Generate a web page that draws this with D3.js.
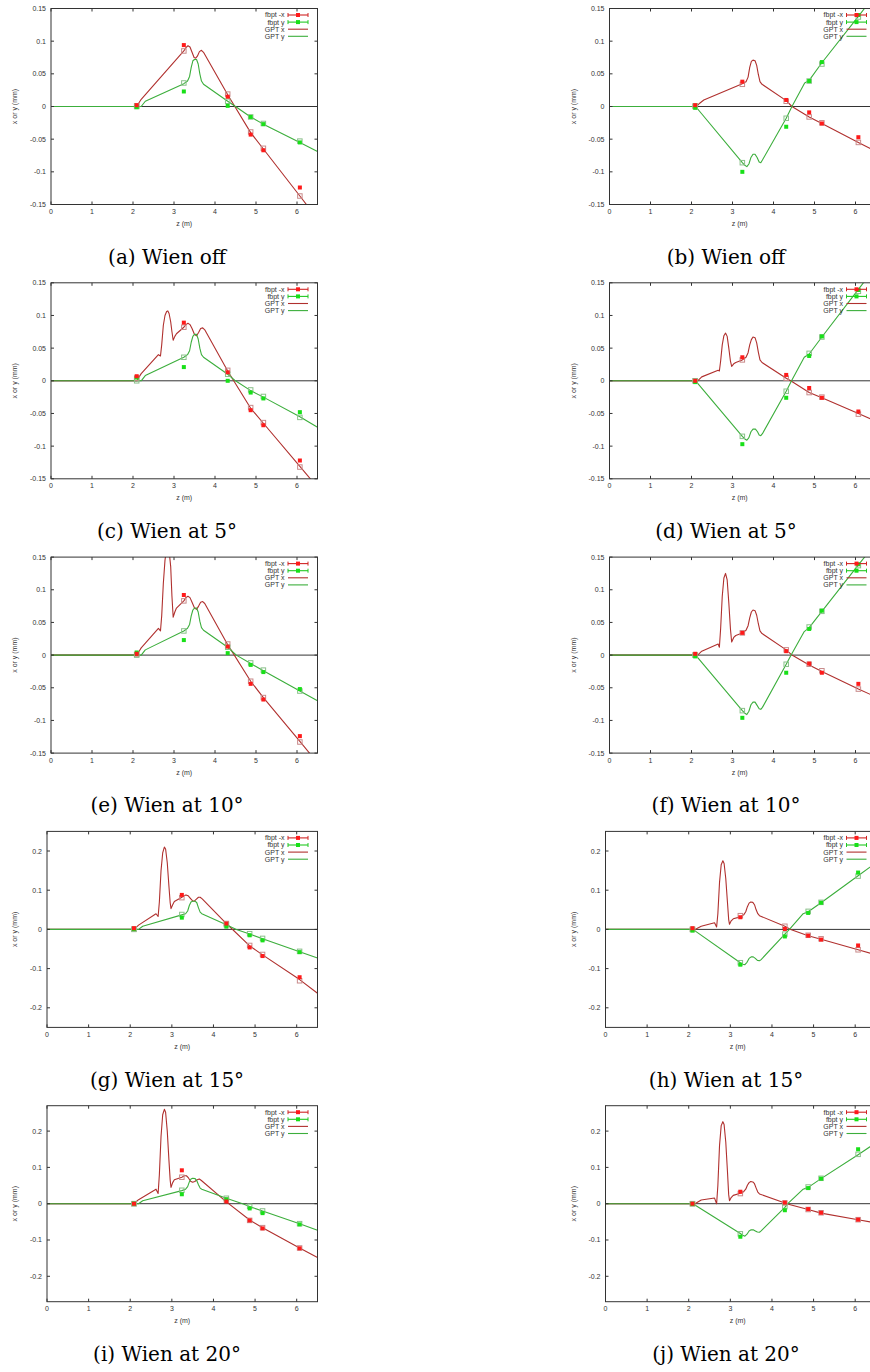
<!DOCTYPE html>
<html><head><meta charset="utf-8">
<script src="https://cdn.jsdelivr.net/npm/d3@7"></script>
<style>body{margin:0;background:#fff;overflow:hidden} svg{display:block}</style>
</head><body><svg id="c" width="870" height="1372"></svg>
<script>
// ---------- data ----------
const zMeas = [2.09, 3.24, 4.31, 4.87, 5.18, 6.07];
const captions = ["(a) Wien off","(b) Wien off","(c) Wien at 5°","(d) Wien at 5°","(e) Wien at 10°","(f) Wien at 10°","(g) Wien at 15°","(h) Wien at 15°","(i) Wien at 20°","(j) Wien at 20°"];
const yLimits = [0.15,0.15,0.15,0.15,0.15,0.15,0.25,0.25,0.27,0.27];
const xTicks = [0,1,2,3,4,5,6];
const yTicksSmall = [0.15,0.1,0.05,0,-0.05,-0.1,-0.15];
const yTicksLarge = [0.2,0.1,0,-0.1,-0.2];
const legendLabels = ["fbpt -x","fbpt y","GPT x","GPT y"];
const xAxisTitle = "z (m)";
const yAxisTitle = "x or y (mm)";

// fbpt measured points (filled) and GPT values at measurement z (open)
const fbptX_a=[0.002,0.094,0.015,-0.043,-0.067,-0.124], fbptY_a=[-0.001,0.023,0.001,-0.016,-0.027,-0.055];
const gptXPts_a=[0.001,0.085,0.019,-0.039,-0.064,-0.137], gptYPts_a=[0.0,0.036,0.008,-0.016,-0.026,-0.053];
const fbptX_b=[0.002,0.038,0.010,-0.009,-0.026,-0.047], fbptY_b=[-0.002,-0.100,-0.031,0.039,0.068,0.140];
const gptXPts_b=[0.0,0.034,0.008,-0.016,-0.025,-0.055], gptYPts_b=[0.001,-0.086,-0.018,0.039,0.065,0.137];
const fbptX_c=[0.007,0.089,0.013,-0.045,-0.068,-0.122], fbptY_c=[0.005,0.021,0.0,-0.018,-0.027,-0.048];
const gptXPts_c=[0.004,0.082,0.016,-0.041,-0.064,-0.132], gptYPts_c=[0.0,0.036,0.010,-0.014,-0.024,-0.056];
const fbptX_d=[0.0,0.036,0.009,-0.011,-0.026,-0.047], fbptY_d=[-0.002,-0.097,-0.026,0.038,0.068,0.139];
const gptXPts_d=[0.0,0.032,0.004,-0.018,-0.025,-0.051], gptYPts_d=[0.0,-0.085,-0.016,0.042,0.067,0.137];
const fbptX_e=[0.002,0.092,0.013,-0.044,-0.068,-0.124], fbptY_e=[0.004,0.023,0.003,-0.015,-0.026,-0.052];
const gptXPts_e=[0.001,0.083,0.017,-0.040,-0.065,-0.133], gptYPts_e=[0.0,0.037,0.012,-0.012,-0.023,-0.055];
const fbptX_f=[0.002,0.034,0.006,-0.013,-0.027,-0.044], fbptY_f=[-0.002,-0.096,-0.027,0.040,0.068,0.139];
const gptXPts_f=[0.0,0.034,0.008,-0.014,-0.024,-0.052], gptYPts_f=[0.0,-0.085,-0.014,0.043,0.067,0.137];
const fbptX_g=[0.003,0.088,0.015,-0.046,-0.068,-0.122], fbptY_g=[0.001,0.030,0.007,-0.015,-0.028,-0.058];
const gptXPts_g=[0.001,0.081,0.015,-0.041,-0.064,-0.131], gptYPts_g=[0.0,0.038,0.012,-0.011,-0.023,-0.056];
const fbptX_h=[0.003,0.031,0.001,-0.016,-0.026,-0.041], fbptY_h=[-0.003,-0.090,-0.018,0.042,0.068,0.145];
const gptXPts_h=[0.0,0.035,0.008,-0.015,-0.024,-0.052], gptYPts_h=[0.0,-0.085,-0.012,0.046,0.069,0.136];
const fbptX_i=[0.0,0.092,0.006,-0.046,-0.068,-0.123], fbptY_i=[0.0,0.026,0.012,-0.013,-0.026,-0.057];
const gptXPts_i=[0.0,0.073,0.010,-0.046,-0.066,-0.122], gptYPts_i=[0.0,0.037,0.015,-0.007,-0.020,-0.055];
const fbptX_j=[0.0,0.033,0.003,-0.015,-0.025,-0.044], fbptY_j=[-0.001,-0.091,-0.018,0.043,0.069,0.150];
const gptXPts_j=[0.0,0.028,0.002,-0.016,-0.025,-0.044], gptYPts_j=[0.0,-0.083,-0.008,0.046,0.070,0.136];

// GPT trajectories [z, value]
const gptX_a=[[0,0],[2.1,0],[2.15,0.006],[2.2,0.011],[3.24,0.085],[3.29,0.090],[3.34,0.093],[3.39,0.091],[3.44,0.083],[3.49,0.075],[3.53,0.074],[3.57,0.077],[3.62,0.084],[3.67,0.086],[3.72,0.083],[4.31,0.018],[4.87,-0.040],[5.18,-0.065],[6.07,-0.137],[6.5,-0.172]];
const gptY_a=[[0,0],[2.2,0],[2.3,0.008],[3.24,0.035],[3.33,0.039],[3.38,0.046],[3.42,0.060],[3.46,0.070],[3.5,0.072],[3.55,0.072],[3.59,0.065],[3.63,0.050],[3.67,0.039],[3.72,0.034],[4.31,0.008],[4.5,0],[4.87,-0.016],[5.18,-0.027],[6.07,-0.055],[6.5,-0.069]];
const gptX_b=[[0,0],[2.12,0],[2.2,0.005],[2.3,0.010],[3.24,0.035],[3.33,0.038],[3.38,0.045],[3.42,0.060],[3.46,0.069],[3.5,0.071],[3.55,0.070],[3.59,0.063],[3.63,0.049],[3.67,0.038],[3.72,0.034],[4.31,0.009],[4.45,0],[4.87,-0.016],[5.18,-0.026],[6.07,-0.055],[6.5,-0.069]];
const gptY_b=[[0,0],[2.1,0],[3.24,-0.086],[3.3,-0.090],[3.35,-0.092],[3.4,-0.088],[3.45,-0.078],[3.5,-0.073],[3.55,-0.073],[3.6,-0.078],[3.65,-0.085],[3.69,-0.086],[3.73,-0.082],[4.31,-0.018],[4.45,0],[4.76,0.036],[4.87,0.040],[5.18,0.067],[6.07,0.138],[6.5,0.173]];
const gptX_c=[[0,0],[2.1,0],[2.15,0.006],[2.2,0.011],[2.62,0.040],[2.67,0.038],[2.7,0.055],[2.74,0.085],[2.78,0.100],[2.82,0.106],[2.85,0.107],[2.88,0.103],[2.92,0.090],[2.95,0.075],[2.98,0.062],[3.02,0.068],[3.06,0.072],[3.24,0.082],[3.29,0.086],[3.34,0.088],[3.39,0.086],[3.44,0.080],[3.5,0.071],[3.55,0.069],[3.6,0.074],[3.65,0.080],[3.7,0.081],[3.75,0.078],[4.31,0.015],[4.87,-0.042],[5.18,-0.065],[6.07,-0.131],[6.5,-0.163]];
const gptY_c=[[0,0],[2.2,0],[2.3,0.008],[3.24,0.036],[3.33,0.040],[3.38,0.046],[3.42,0.059],[3.46,0.068],[3.5,0.071],[3.55,0.071],[3.59,0.064],[3.63,0.050],[3.67,0.040],[3.72,0.036],[4.31,0.010],[4.5,0],[4.87,-0.015],[5.18,-0.025],[6.07,-0.055],[6.5,-0.071]];
const gptX_d=[[0,0],[2.15,0],[2.25,0.006],[2.65,0.016],[2.68,0.015],[2.71,0.030],[2.75,0.055],[2.79,0.069],[2.83,0.073],[2.87,0.068],[2.91,0.050],[2.95,0.030],[2.98,0.022],[3.03,0.026],[3.08,0.028],[3.24,0.032],[3.33,0.036],[3.38,0.043],[3.42,0.055],[3.46,0.063],[3.5,0.067],[3.55,0.066],[3.59,0.058],[3.63,0.044],[3.67,0.032],[3.72,0.028],[4.31,0.004],[4.42,0],[4.87,-0.018],[5.18,-0.026],[6.07,-0.050],[6.5,-0.062]];
const gptY_d=[[0,0],[2.1,0],[3.24,-0.085],[3.3,-0.089],[3.35,-0.091],[3.4,-0.087],[3.45,-0.078],[3.5,-0.074],[3.56,-0.074],[3.61,-0.078],[3.65,-0.083],[3.69,-0.084],[3.73,-0.081],[4.31,-0.016],[4.44,0],[4.75,0.036],[4.87,0.041],[5.18,0.067],[6.07,0.140],[6.5,0.175]];
const gptX_e=[[0,0],[2.1,0],[2.15,0.006],[2.2,0.011],[2.62,0.041],[2.67,0.037],[2.7,0.060],[2.74,0.110],[2.78,0.145],[2.82,0.163],[2.85,0.166],[2.88,0.160],[2.92,0.135],[2.95,0.090],[2.98,0.058],[3.02,0.066],[3.06,0.072],[3.24,0.083],[3.29,0.088],[3.34,0.090],[3.39,0.088],[3.44,0.081],[3.5,0.072],[3.55,0.070],[3.6,0.075],[3.65,0.081],[3.7,0.082],[3.75,0.079],[4.31,0.016],[4.87,-0.040],[5.18,-0.065],[6.07,-0.132],[6.5,-0.165]];
const gptY_e=[[0,0],[2.2,0],[2.3,0.008],[3.24,0.037],[3.33,0.041],[3.38,0.047],[3.42,0.060],[3.46,0.069],[3.5,0.072],[3.55,0.072],[3.59,0.066],[3.63,0.052],[3.67,0.042],[3.72,0.038],[4.31,0.012],[4.52,0],[4.87,-0.013],[5.18,-0.024],[6.07,-0.055],[6.5,-0.070]];
const gptX_f=[[0,0],[2.15,0],[2.25,0.006],[2.65,0.017],[2.68,0.012],[2.71,0.040],[2.75,0.090],[2.79,0.118],[2.83,0.125],[2.87,0.115],[2.91,0.080],[2.95,0.040],[2.98,0.020],[3.03,0.027],[3.08,0.030],[3.24,0.034],[3.33,0.038],[3.38,0.045],[3.42,0.057],[3.46,0.066],[3.5,0.069],[3.55,0.068],[3.59,0.061],[3.63,0.048],[3.67,0.037],[3.72,0.033],[4.31,0.008],[4.45,0],[4.87,-0.015],[5.18,-0.025],[6.07,-0.052],[6.5,-0.064]];
const gptY_f=[[0,0],[2.1,0],[3.24,-0.085],[3.3,-0.089],[3.35,-0.091],[3.4,-0.086],[3.45,-0.076],[3.5,-0.072],[3.55,-0.072],[3.6,-0.077],[3.65,-0.082],[3.69,-0.083],[3.73,-0.080],[4.31,-0.014],[4.43,0],[4.75,0.036],[4.87,0.042],[5.18,0.067],[6.07,0.138],[6.5,0.172]];
const gptX_g=[[0,0],[2.1,0],[2.15,0.006],[2.2,0.011],[2.62,0.040],[2.67,0.033],[2.7,0.070],[2.74,0.150],[2.78,0.195],[2.82,0.210],[2.85,0.205],[2.89,0.170],[2.93,0.110],[2.96,0.068],[2.98,0.053],[3.02,0.063],[3.06,0.071],[3.24,0.082],[3.29,0.086],[3.34,0.088],[3.39,0.086],[3.44,0.080],[3.5,0.073],[3.54,0.072],[3.59,0.077],[3.64,0.082],[3.68,0.082],[3.73,0.078],[4.31,0.015],[4.87,-0.042],[5.18,-0.065],[6.07,-0.128],[6.5,-0.163]];
const gptY_g=[[0,0],[2.2,0],[2.3,0.008],[3.24,0.037],[3.33,0.040],[3.38,0.047],[3.42,0.061],[3.46,0.070],[3.5,0.072],[3.56,0.072],[3.6,0.068],[3.64,0.055],[3.68,0.044],[3.72,0.040],[4.31,0.012],[4.55,0],[4.87,-0.012],[5.18,-0.024],[6.07,-0.057],[6.5,-0.073]];
const gptX_h=[[0,0],[2.15,0],[2.3,0.008],[2.62,0.017],[2.67,0.006],[2.7,0.040],[2.74,0.120],[2.78,0.165],[2.82,0.175],[2.85,0.168],[2.89,0.130],[2.93,0.070],[2.96,0.025],[2.98,0.013],[3.02,0.022],[3.07,0.027],[3.24,0.032],[3.32,0.037],[3.37,0.045],[3.41,0.058],[3.45,0.067],[3.49,0.070],[3.54,0.069],[3.58,0.063],[3.62,0.050],[3.66,0.040],[3.7,0.035],[4.31,0.008],[4.45,0],[4.87,-0.016],[5.18,-0.025],[6.07,-0.052],[6.5,-0.065]];
const gptY_h=[[0,0],[2.1,0],[3.24,-0.085],[3.3,-0.089],[3.35,-0.090],[3.4,-0.084],[3.45,-0.074],[3.5,-0.070],[3.55,-0.070],[3.6,-0.074],[3.65,-0.079],[3.7,-0.080],[3.74,-0.077],[4.31,-0.012],[4.42,0],[4.75,0.040],[4.87,0.045],[5.18,0.068],[6.07,0.137],[6.5,0.170]];
const gptX_i=[[0,0],[2.1,0],[2.15,0.006],[2.2,0.011],[2.62,0.040],[2.67,0.028],[2.7,0.080],[2.74,0.185],[2.78,0.245],[2.82,0.260],[2.85,0.252],[2.89,0.200],[2.93,0.120],[2.96,0.065],[2.98,0.045],[3.02,0.058],[3.06,0.066],[3.24,0.073],[3.3,0.077],[3.35,0.077],[3.4,0.071],[3.45,0.062],[3.5,0.059],[3.55,0.061],[3.61,0.066],[3.66,0.068],[3.71,0.064],[4.31,0.005],[4.87,-0.045],[5.18,-0.066],[6.07,-0.122],[6.5,-0.148]];
const gptY_i=[[0,0],[2.2,0],[2.3,0.008],[3.24,0.036],[3.33,0.040],[3.38,0.047],[3.42,0.060],[3.46,0.068],[3.5,0.070],[3.56,0.069],[3.6,0.063],[3.64,0.052],[3.68,0.043],[3.72,0.040],[4.31,0.015],[4.7,0],[4.87,-0.008],[5.18,-0.020],[6.07,-0.055],[6.5,-0.073]];
const gptX_j=[[0,0],[2.15,0],[2.3,0.010],[2.62,0.0155],[2.67,0.0],[2.7,0.050],[2.74,0.160],[2.78,0.215],[2.82,0.226],[2.85,0.218],[2.89,0.170],[2.93,0.090],[2.96,0.025],[2.98,0.008],[3.02,0.017],[3.07,0.023],[3.24,0.029],[3.32,0.033],[3.37,0.040],[3.41,0.051],[3.45,0.058],[3.49,0.061],[3.54,0.060],[3.58,0.055],[3.62,0.043],[3.66,0.032],[3.7,0.027],[4.31,0.002],[4.35,0],[4.87,-0.016],[5.18,-0.026],[6.07,-0.044],[6.5,-0.053]];
const gptY_j=[[0,0],[2.1,0],[3.24,-0.082],[3.3,-0.087],[3.35,-0.0895],[3.4,-0.084],[3.45,-0.075],[3.5,-0.072],[3.55,-0.072],[3.6,-0.075],[3.65,-0.078],[3.7,-0.0785],[3.74,-0.075],[4.31,-0.010],[4.38,0],[4.75,0.040],[4.87,0.045],[5.18,0.069],[6.07,0.135],[6.5,0.168]];

// ---------- assemble ----------
const panels = [
  [fbptX_a,fbptY_a,gptXPts_a,gptYPts_a,gptX_a,gptY_a],
  [fbptX_b,fbptY_b,gptXPts_b,gptYPts_b,gptX_b,gptY_b],
  [fbptX_c,fbptY_c,gptXPts_c,gptYPts_c,gptX_c,gptY_c],
  [fbptX_d,fbptY_d,gptXPts_d,gptYPts_d,gptX_d,gptY_d],
  [fbptX_e,fbptY_e,gptXPts_e,gptYPts_e,gptX_e,gptY_e],
  [fbptX_f,fbptY_f,gptXPts_f,gptYPts_f,gptX_f,gptY_f],
  [fbptX_g,fbptY_g,gptXPts_g,gptYPts_g,gptX_g,gptY_g],
  [fbptX_h,fbptY_h,gptXPts_h,gptYPts_h,gptX_h,gptY_h],
  [fbptX_i,fbptY_i,gptXPts_i,gptYPts_i,gptX_i,gptY_i],
  [fbptX_j,fbptY_j,gptXPts_j,gptYPts_j,gptX_j,gptY_j]
];

const svg = d3.select("#c");
const FONT = "'Liberation Sans', Arial, sans-serif";
const C = {
  fx:"#ff1a1a", fy:"#18e018", gx:"#b0302e", gy:"#3cae3c",
  ox:"#c88a8a", oy:"#8ac08a", axis:"#333", text:"#333"
};
const rowTop = r => 8.5 + r*274.3;
const plotH = 196;
const plotRight = 317.5;
const colShift = 558.5;

panels.forEach((p, idx) => {
  const [fX,fY,gXP,gYP,gX,gY] = p;
  const row = Math.floor(idx/2), col = idx%2;
  const lim = yLimits[idx];
  const big = lim > 0.2;
  const left0 = big ? 47 : 51;
  const left = left0 + col*colShift, right = plotRight + col*colShift;
  const top = rowTop(row), bottom = top + plotH;
  const x = d3.scaleLinear().domain([0,6.5]).range([left,right]);
  const y = d3.scaleLinear().domain([-lim,lim]).range([bottom,top]);
  const yTicks = big ? yTicksLarge : yTicksSmall;
  const g = svg.append("g");

  const clipId = "clip"+idx;
  g.append("clipPath").attr("id",clipId).append("rect")
    .attr("x",left).attr("y",top).attr("width",right-left).attr("height",plotH);

  // zero line
  g.append("line").attr("x1",left).attr("x2",right).attr("y1",y(0)).attr("y2",y(0))
    .attr("stroke",C.axis).attr("stroke-width",1);

  const pg = g.append("g").attr("clip-path",`url(#${clipId})`);
  const line = d3.line().x(d=>x(d[0])).y(d=>y(d[1])).curve(d3.curveLinear);
  pg.append("path").attr("d",line(gX)).attr("fill","none").attr("stroke",C.gx).attr("stroke-width",1.1).attr("stroke-linejoin","round");
  pg.append("path").attr("d",line(gY)).attr("fill","none").attr("stroke",C.gy).attr("stroke-width",1.1).attr("stroke-linejoin","round");

  // open squares (GPT at measurement points)
  const sq = 4.5;
  [[gXP,C.ox],[gYP,C.oy]].forEach(([arr,col]) => {
    pg.selectAll(null).data(arr).enter().append("rect")
      .attr("x",(d,i)=>x(zMeas[i])-sq/2).attr("y",d=>y(d)-sq/2)
      .attr("width",sq).attr("height",sq).attr("fill","none")
      .attr("stroke",col).attr("stroke-width",1);
  });
  // filled squares (fbpt)
  const fs = 4;
  [[fY,C.fy],[fX,C.fx]].forEach(([arr,col]) => {
    pg.selectAll(null).data(arr).enter().append("rect")
      .attr("x",(d,i)=>x(zMeas[i])-fs/2).attr("y",d=>y(d)-fs/2)
      .attr("width",fs).attr("height",fs).attr("fill",col);
  });

  // frame
  g.append("rect").attr("x",left).attr("y",top).attr("width",right-left).attr("height",plotH)
    .attr("fill","none").attr("stroke",C.axis).attr("stroke-width",1);

  // ticks (inward, mirrored)
  const tl = 3;
  xTicks.forEach(t => {
    const xx = x(t);
    g.append("line").attr("x1",xx).attr("x2",xx).attr("y1",bottom).attr("y2",bottom-tl).attr("stroke",C.axis);
    g.append("line").attr("x1",xx).attr("x2",xx).attr("y1",top).attr("y2",top+tl).attr("stroke",C.axis);
    g.append("text").attr("x",xx).attr("y",bottom+9.5).attr("text-anchor","middle")
      .attr("font-family",FONT).attr("font-size",7).attr("fill",C.text).text(String(t));
  });
  yTicks.forEach(t => {
    const yy = y(t);
    g.append("line").attr("x1",left).attr("x2",left+tl).attr("y1",yy).attr("y2",yy).attr("stroke",C.axis);
    g.append("line").attr("x1",right).attr("x2",right-tl).attr("y1",yy).attr("y2",yy).attr("stroke",C.axis);
    g.append("text").attr("x",left-5).attr("y",yy+2.5).attr("text-anchor","end")
      .attr("font-family",FONT).attr("font-size",7).attr("fill",C.text).text(String(t));
  });

  // axis titles
  g.append("text").attr("x",(left+right)/2 - (col?3:0)).attr("y",bottom+21.5).attr("text-anchor","middle")
    .attr("font-family",FONT).attr("font-size",7).attr("fill",C.text).text(xAxisTitle);
  g.append("text").attr("transform",`translate(${17+col*colShift},${(top+bottom)/2}) rotate(-90)`)
    .attr("text-anchor","middle").attr("font-family",FONT).attr("font-size",7).attr("fill",C.text).text(yAxisTitle);

  // legend
  const lx = right - 33, sx0 = right - 29.5, sx1 = right - 9.5;
  const legendColors = [C.fx, C.fy, C.gx, C.gy];
  legendLabels.forEach((lab,i) => {
    const ly = top + 6.5 + i*7.1;
    g.append("text").attr("x",lx).attr("y",ly+2.4).attr("text-anchor","end")
      .attr("font-family",FONT).attr("font-size",7).attr("fill",C.text).text(lab);
    const lc = i===0 ? "#d02424" : i===1 ? "#22c822" : legendColors[i];
    g.append("line").attr("x1",sx0).attr("x2",sx1).attr("y1",ly).attr("y2",ly)
      .attr("stroke",lc).attr("stroke-width",1.1);
    if (i<2) {
      [sx0,sx1].forEach(cx => g.append("line").attr("x1",cx).attr("x2",cx)
        .attr("y1",ly-2).attr("y2",ly+2).attr("stroke",lc));
      g.append("rect").attr("x",(sx0+sx1)/2-2).attr("y",ly-2).attr("width",4).attr("height",4)
        .attr("fill",legendColors[i]);
    }
  });

  // caption
  svg.append("text").attr("x",col ? 726 : 167).attr("y",257 + row*274.2 + 7)
    .attr("text-anchor","middle").attr("font-family","'DejaVu Serif', serif")
    .attr("font-size",20).attr("fill","#000").text(captions[idx]);
});
</script>
</body></html>
